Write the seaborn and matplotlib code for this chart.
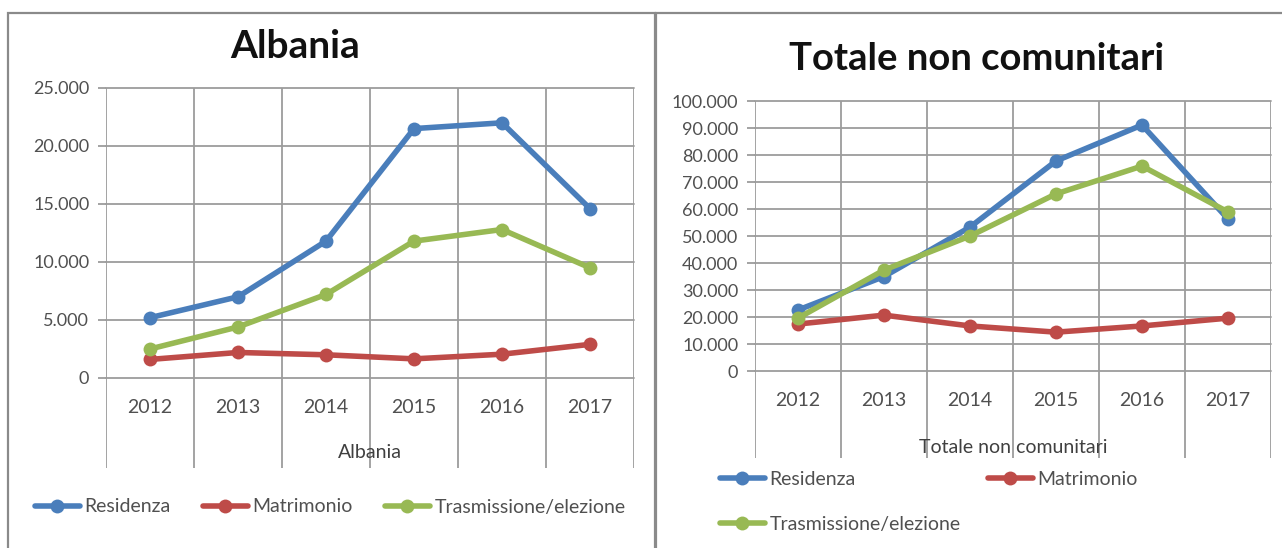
import pandas as pd
import seaborn as sns
import matplotlib.pyplot as plt
from matplotlib.lines import Line2D
from matplotlib.patches import Rectangle
from matplotlib.ticker import FuncFormatter

sns.set_theme(style="white")
plt.rcParams['font.family'] = ['Lato', 'DejaVu Sans']

# dati
anni = [2012, 2013, 2014, 2015, 2016, 2017]
serie = ['Residenza', 'Matrimonio', 'Trasmissione/elezione']
colori = ['#4A7EBB', '#BE4B48', '#98B954']

alb_residenza = [5200, 7000, 11800, 21500, 22000, 14600]
alb_matrimonio = [1600, 2200, 2000, 1650, 2050, 2900]
alb_trasmissione = [2500, 4400, 7200, 11800, 12800, 9500]

tot_residenza = [22600, 35000, 53300, 77800, 91100, 56300]
tot_matrimonio = [17400, 20700, 16700, 14400, 16700, 19600]
tot_trasmissione = [19600, 37400, 50000, 65600, 75900, 58900]

GRIGIO = '#9c9c9c'
TESTO = '#505050'


def tabella(res, mat, tra):
    righe = []
    for nome, valori in zip(serie, [res, mat, tra]):
        for a, v in zip(anni, valori):
            righe.append({'anno': a, 'valore': v, 'serie': nome})
    return pd.DataFrame(righe)


def migliaia(v, pos):
    return f"{int(round(v)):,}".replace(',', '.')


def grafico(ax, df, yticks, ybasso, titolo_asse, y_anni, y_titolo):
    sns.lineplot(data=df, x='anno', y='valore', hue='serie', hue_order=serie,
                 palette=colori, marker='o', markersize=10, markeredgewidth=0,
                 linewidth=4, legend=False, ax=ax, zorder=3)
    ax.set_xlim(anni[0] - 0.5, anni[-1] + 0.5)
    ax.set_ylim(ybasso, yticks[-1])
    ax.set_yticks(yticks)
    ax.yaxis.set_major_formatter(FuncFormatter(migliaia))
    ax.set_xticks([])
    ax.set_xticks([a - 0.5 for a in anni] + [anni[-1] + 0.5], minor=True)
    ax.grid(True, axis='y', which='major', color=GRIGIO, lw=1.3)
    ax.grid(True, axis='x', which='minor', color=GRIGIO, lw=1.3)
    for g in ax.get_ygridlines():
        g.set_clip_on(False)
    ax.tick_params(axis='y', which='major', left=True, length=6, width=1.3,
                   color=GRIGIO, labelsize=13, labelcolor=TESTO, pad=6)
    ax.tick_params(axis='x', which='minor', length=0)
    for s in ax.spines.values():
        s.set_visible(False)
    ax.set_xlabel('')
    ax.set_ylabel('')
    for a in anni:
        ax.text(a, y_anni, str(a), transform=ax.get_xaxis_transform(),
                ha='center', va='center', fontsize=14, color=TESTO)
    ax.text(0.5, y_titolo, titolo_asse, transform=ax.transAxes,
            ha='center', va='center', fontsize=14, color='#404040')


W, H = 1282, 548
fig = plt.figure(figsize=(W / 100, H / 100), dpi=100)

# cornici dei due grafici
fig.add_artist(Rectangle((8 / W, -0.05), (655 - 8) / W, 1.05 - 13 / H,
                         transform=fig.transFigure, fill=False,
                         edgecolor='#8a8a8a', lw=1.6))
fig.add_artist(Rectangle((656 / W, -0.05), 0.6, 1.05 - 13 / H,
                         transform=fig.transFigure, fill=False,
                         edgecolor='#8a8a8a', lw=1.6))

ax1 = fig.add_axes([106 / W, 1 - 468 / H, 528 / W, 380 / H])
grafico(ax1, tabella(alb_residenza, alb_matrimonio, alb_trasmissione),
        list(range(0, 25001, 5000)), -7760, 'Albania', 0.158, 0.04)

ax2 = fig.add_axes([755 / W, 1 - 458 / H, 516 / W, 357 / H])
grafico(ax2, tabella(tot_residenza, tot_matrimonio, tot_trasmissione),
        list(range(0, 100001, 10000)), -32200, 'Totale non comunitari', 0.16, 0.03)

fig.text(295 / W, 1 - 58 / H, 'Albania', ha='center', va='baseline',
         fontsize=28, fontweight='bold', color='#111111')
fig.text(977 / W, 1 - 70 / H, 'Totale non comunitari', ha='center', va='baseline',
         fontsize=27.5, fontweight='bold', color='#111111')

maniglie = [Line2D([], [], color=c, lw=4, marker='o', markersize=10,
                   markeredgewidth=0) for c in colori]

fig.legend(maniglie, serie, loc='center left', bbox_to_anchor=(35 / W, 1 - 507 / H),
           ncol=3, frameon=False, fontsize=14, handlelength=2.3,
           handletextpad=0.25, columnspacing=1.65, borderpad=0, borderaxespad=0,
           labelcolor=TESTO)

fig.legend([maniglie[0], maniglie[2], maniglie[1]],
           [serie[0], serie[2], serie[1]], loc='center left',
           bbox_to_anchor=(720 / W, 1 - 502 / H), ncol=2, frameon=False,
           fontsize=14, handlelength=2.3, handletextpad=0.25, columnspacing=1.4,
           labelspacing=1.45, borderpad=0, borderaxespad=0, labelcolor=TESTO)

fig.savefig('out.png', dpi=100)
